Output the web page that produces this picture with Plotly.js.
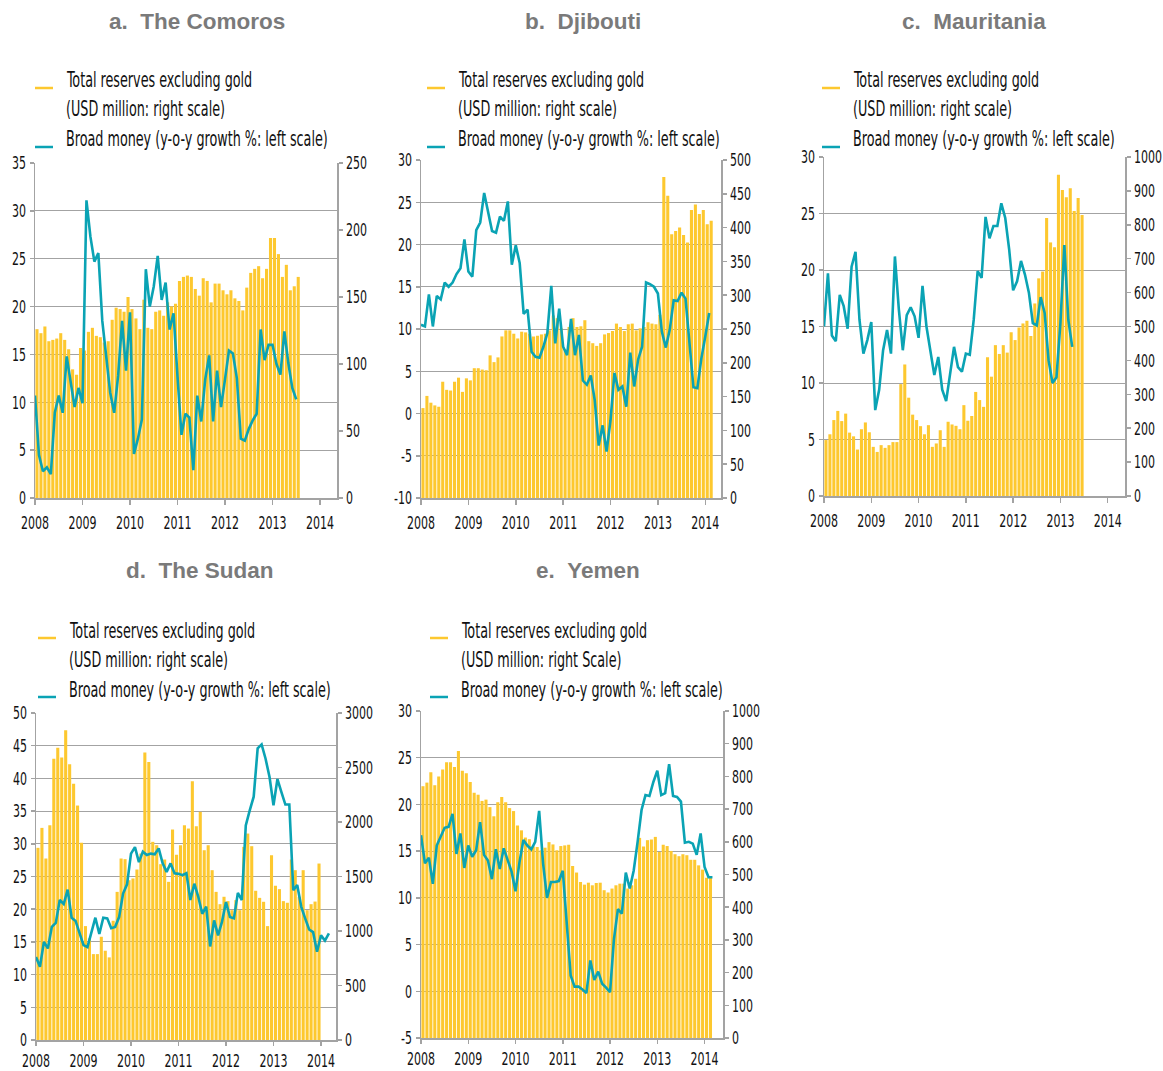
<!DOCTYPE html>
<html>
<head>
<meta charset="utf-8">
<script src="https://cdn.plot.ly/plotly-3.0.1.min.js"></script>
<style>html,body{margin:0;padding:0;background:#fff;}#chart{width:1163px;height:1071px;}</style>
</head>
<body>
<div id="chart"></div>
<script>
// ---------- DATA (monthly, starting January 2008) ----------
const years = [2008, 2009, 2010, 2011, 2012, 2013, 2014];
const yearLabels = ["2008", "2009", "2010", "2011", "2012", "2013", "2014"];

const panelTitles = ["a.\u00a0\u00a0The Comoros", "b.\u00a0\u00a0Djibouti", "c.\u00a0\u00a0Mauritania", "d.\u00a0\u00a0The Sudan", "e.\u00a0\u00a0Yemen"];
const legendReserves1 = "Total reserves excluding gold";
const legendReserves2 = ["(USD million: right scale)", "(USD million: right scale)", "(USD million: right scale)", "(USD million: right scale)", "(USD million: right Scale)"];
const legendMoney = "Broad money (y-o-y growth %: left scale)";

// a. The Comoros
const comorosReserves = [126,123,128,117,118,119,123,118,111,96,92,112,
  110,124,127,121,120,116,117,133,142,141,139,150,
  141,134,126,148,127,126,139,140,136,146,143,145,
  162,165,166,165,156,151,164,162,146,160,160,155,
  152,155,149,147,140,157,168,171,173,164,171,194,
  194,182,165,174,155,158,165];
const comorosMoney = [10.7,4.5,2.8,3.2,2.5,8.9,10.7,8.9,14.8,12.1,9.5,11.5,
  9.9,31.1,27.3,24.7,25.6,18.5,14.8,11.0,8.9,12.75,18.5,13.3,
  19.4,4.6,6.2,8.2,23.9,20.0,22.1,25.3,20.7,22.5,17.6,19.3,
  12.7,6.6,8.8,8.4,2.9,10.7,8.0,12.4,14.9,8.0,13.3,9.5,
  12.4,15.4,15.1,12.5,6.2,6.0,7.2,8.1,8.8,17.6,14.4,16.0,
  16.0,14.0,12.9,17.4,14.1,11.5,10.3];

// b. Djibouti
const djiboutiReserves = [133,151,141,137,135,172,160,159,172,178,157,177,
  174,192,192,190,189,211,201,208,239,248,248,243,
  236,246,245,243,239,240,242,243,248,270,266,251,
  220,253,266,253,254,263,232,229,225,229,242,244,
  247,258,253,247,257,258,248,251,253,260,258,257,
  271,475,447,390,395,400,389,378,426,434,420,426,405,410];
const djiboutiMoney = [10.5,10.3,14.1,10.3,13.9,13.5,15.5,15.0,15.5,16.5,17.2,20.6,
  16.8,16.2,21.7,22.6,26.1,23.9,21.6,21.4,23.3,22.8,25.1,17.6,
  19.9,17.8,11.8,12.3,7.3,6.7,6.6,7.9,9.5,15.1,8.3,12.4,
  7.9,6.9,11.2,6.9,9.3,3.9,3.4,4.5,1.6,-3.8,-1.4,-4.5,
  -0.8,4.8,2.8,3.2,0.8,7.2,3.2,6.4,7.9,15.5,15.3,15.0,
  14.2,9.7,7.8,9.9,13.4,13.3,14.3,13.6,8.5,3.1,3.0,6.5,9.1,11.9];

// c. Mauritania
const mauritaniaReserves = [165,182,224,251,221,243,187,176,137,197,217,188,
  145,130,150,142,150,159,159,330,388,290,240,224,
  206,182,209,145,155,194,145,219,211,207,197,268,
  222,236,307,283,263,409,352,445,419,445,423,483,
  460,497,509,517,472,568,642,662,820,748,734,948,
  903,881,908,841,879,829];
const mauritaniaMoney = [15.0,19.7,14.2,13.7,17.8,16.8,14.8,20.3,21.6,15.6,12.6,13.8,
  15.4,7.6,9.4,12.9,14.7,12.6,21.2,16.5,12.9,16.0,16.7,15.9,
  14.0,18.6,15.0,12.9,10.7,12.3,9.4,8.4,10.8,13.2,11.4,11.0,
  12.6,12.5,15.6,19.9,19.3,24.7,22.8,23.9,23.9,25.9,24.6,21.8,
  18.2,19.0,20.8,19.6,18.0,15.3,15.1,17.6,16.2,12.0,10.0,10.5,
  15.3,22.2,15.6,13.2];

// d. The Sudan
const sudanReserves = [1763,1946,1665,1970,2581,2682,2591,2841,2530,2352,2151,1809,
  1045,932,788,788,947,819,758,1094,1359,1665,1659,1466,
  1482,1564,1711,2637,2551,1818,1787,1613,1656,1451,1931,1700,
  1787,1970,1940,2374,1961,2093,1741,1787,1558,1359,1246,1314,
  1274,1191,1283,1191,1772,1894,1778,1369,1304,1268,1045,1696,
  1414,1384,1274,1259,1656,1558,1314,1558,1191,1246,1270,1619];
const sudanMoney = [12.7,11.2,15.0,14.0,17.3,17.9,21.4,20.8,23.0,18.7,18.2,16.3,
  14.5,14.2,16.3,18.7,16.2,18.7,18.6,17.1,17.3,18.8,22.4,23.8,
  28.5,29.5,27.2,28.8,28.3,28.5,28.4,29.3,27.0,25.7,27.0,25.5,
  25.4,25.2,25.5,21.4,23.9,21.9,19.3,20.4,14.3,18.3,16.0,18.1,
  21.1,18.8,18.6,22.5,21.4,32.8,35.1,37.2,44.6,45.2,43.0,40.2,
  35.9,39.9,37.9,36.0,36.0,22.9,23.7,20.4,18.6,16.9,16.5,13.5,
  16.0,15.2,16.3];

// e. Yemen
const yemenReserves = [770,781,813,773,800,821,843,843,829,878,817,810,
  783,750,744,725,729,706,678,721,737,721,703,694,
  650,635,613,608,586,584,574,582,599,592,574,587,
  589,591,526,506,477,469,475,467,474,475,452,445,
  457,467,472,472,457,467,487,612,586,605,607,615,
  569,591,587,572,562,556,562,559,545,545,528,515,490,490];
const yemenMoney = [16.7,13.7,14.3,11.5,15.6,16.5,17.5,17.6,19.0,14.7,16.9,13.2,
  15.6,14.4,15.1,18.1,14.6,14.0,12.0,15.2,13.1,15.3,14.0,12.8,
  10.7,13.8,16.2,15.6,15.2,16.0,19.3,13.7,10.0,11.7,11.7,11.8,
  12.9,7.5,1.7,0.5,0.5,0.2,-0.2,3.3,1.2,2.1,0.8,0.4,
  -0.1,5.6,8.8,8.3,12.7,11.0,12.9,16.0,19.4,21.0,20.9,22.4,
  23.6,21.0,21.2,24.3,20.9,20.8,20.3,15.9,16.0,15.8,14.6,16.9,
  13.3,12.2,12.2];

// ---------- LAYOUT HELPERS ----------
const W = 1163, H = 1071;
const FONT = '"DejaVu Sans Condensed", "DejaVu Sans", sans-serif';
const GOLD = '#FDC82F', TEAL = '#0AA3B4', GRID = '#a3a3a3', AXIS = '#a3a3a3';

const panels = [
  {reserves: comorosReserves, money: comorosMoney, px: [35, 337], py: [163, 498], xEnd: 2014.358,
   left: [0, 35], right: [0, 250], rdt: 50, title: [197, 21], leg: [35, 64, 0], xlen: 5, xoff: 3},
  {reserves: djiboutiReserves, money: djiboutiMoney, px: [421, 721], py: [160, 498], xEnd: 2014.332,
   left: [-10, 30], right: [0, 500], rdt: 50, title: [583, 21], leg: [427, 456, 0], xlen: 5, xoff: 3},
  {reserves: mauritaniaReserves, money: mauritaniaMoney, px: [824, 1125], py: [157, 496], xEnd: 2014.366,
   left: [0, 30], right: [0, 1000], rdt: 100, title: [974, 21], leg: [822, 851, 0], xlen: 5, xoff: 3},
  {reserves: sudanReserves, money: sudanMoney, px: [36, 336], py: [713, 1040], xEnd: 2014.316,
   left: [0, 50], right: [0, 3000], rdt: 500, title: [200, 570], leg: [38, 67, 550], xlen: 4, xoff: 0},
  {reserves: yemenReserves, money: yemenMoney, px: [421, 723], py: [711, 1038], xEnd: 2014.39,
   left: [-5, 30], right: [0, 1000], rdt: 100, title: [588, 570], leg: [430, 459, 550], xlen: 4, xoff: 0}
];

function ticksFor(range, step) {
  const v = [];
  for (let t = range[0]; t <= range[1] + 1e-9; t += step) v.push(t);
  return v;
}

const data = [];
const layout = {
  width: W, height: H, margin: {l: 0, r: 0, t: 0, b: 0},
  paper_bgcolor: '#fff', plot_bgcolor: 'rgba(0,0,0,0)',
  showlegend: false, bargap: 0.22,
  font: {family: FONT, size: 18, color: '#111'},
  annotations: [], shapes: []
};

const tickFont = {family: FONT, size: 18, color: '#111'};

panels.forEach((p, idx) => {
  const k = idx + 1;
  const kl = k + 5;
  const xName = k === 1 ? 'x' : 'x' + k;
  const yName = k === 1 ? 'y' : 'y' + k;
  const ylName = 'y' + kl;
  const rTicks = ticksFor(p.right, p.rdt);
  const lTicks = ticksFor(p.left, 5);

  layout[k === 1 ? 'xaxis' : 'xaxis' + k] = {
    domain: [p.px[0] / W, p.px[1] / W], anchor: yName,
    range: [2008, p.xEnd], tickmode: 'array', tickvals: years, ticktext: yearLabels,
    showline: true, linecolor: AXIS, linewidth: 1.5, ticks: 'outside', ticklen: p.xlen, tickcolor: AXIS,
    tickwidth: 1.5, showgrid: false, zeroline: false, tickfont: tickFont, fixedrange: true,
    ticklabelstandoff: p.xoff
  };
  layout[k === 1 ? 'yaxis' : 'yaxis' + k] = {
    domain: [1 - p.py[1] / H, 1 - p.py[0] / H], anchor: xName, side: 'right',
    range: p.right, tickmode: 'array', tickvals: rTicks, ticktext: rTicks.map(String),
    showline: true, linecolor: AXIS, linewidth: 1.5, ticks: 'outside', ticklen: 4, tickcolor: AXIS,
    tickwidth: 1.5, showgrid: false, zeroline: false, tickfont: tickFont, fixedrange: true
  };
  layout['yaxis' + kl] = {
    overlaying: yName, anchor: xName, side: 'left',
    range: p.left, tickmode: 'array', tickvals: lTicks, ticktext: lTicks.map(String),
    showline: true, linecolor: AXIS, linewidth: 1.5, ticks: 'outside', ticklen: 4, tickcolor: AXIS,
    tickwidth: 1.5, showgrid: true, gridcolor: GRID, gridwidth: 1, zeroline: false,
    tickfont: tickFont, fixedrange: true
  };

  data.push({
    type: 'bar', xaxis: xName, yaxis: yName,
    x: p.reserves.map((v, i) => 2008 + (i + 0.5) / 12), y: p.reserves,
    marker: {color: GOLD, line: {width: 0}}, hoverinfo: 'skip'
  });
  data.push({
    type: 'scatter', mode: 'lines', xaxis: xName, yaxis: ylName,
    x: p.money.map((v, i) => 2008 + i / 12), y: p.money,
    line: {color: TEAL, width: 2.6}, hoverinfo: 'skip'
  });

  // title
  layout.annotations.push({
    xref: 'paper', yref: 'paper', x: p.title[0] / W, y: 1 - p.title[1] / H,
    xanchor: 'center', yanchor: 'middle', showarrow: false, text: panelTitles[idx],
    font: {family: '"Liberation Sans", Arial, sans-serif', size: 22.5, color: '#7a7a7a', weight: 'bold'}
  });
  // legend
  const off = p.leg[2];
  const segX0 = p.leg[0], textX = p.leg[1];
  [[legendReserves1, 80], [legendReserves2[idx], 109], [legendMoney, 139]].forEach(([t, yy]) => {
    layout.annotations.push({
      xref: 'paper', yref: 'paper', x: textX / W, y: 1 - (yy + off) / H,
      xanchor: 'left', yanchor: 'middle', align: 'left', showarrow: false, text: t,
      font: {family: FONT, size: 22, color: '#111'}
    });
  });
  layout.shapes.push({type: 'line', xref: 'paper', yref: 'paper',
    x0: segX0 / W, x1: (segX0 + 18) / W, y0: 1 - (88 + off) / H, y1: 1 - (88 + off) / H,
    line: {color: GOLD, width: 2.5}});
  layout.shapes.push({type: 'line', xref: 'paper', yref: 'paper',
    x0: segX0 / W, x1: (segX0 + 18) / W, y0: 1 - (147 + off) / H, y1: 1 - (147 + off) / H,
    line: {color: TEAL, width: 2.5}});
});

Plotly.newPlot('chart', data, layout, {displayModeBar: false, staticPlot: true}).then(gd => {
  // The reference uses a strongly condensed face: narrow the condensed texts horizontally
  // by wrapping each one in a group scaled about its anchor point.
  const NS = 'http://www.w3.org/2000/svg';
  const texts = Array.from(gd.querySelectorAll('text'));
  texts.forEach(t => {
    const ff = (t.style && t.style.fontFamily) || '';
    if (!/DejaVu/.test(ff)) return;
    const f = t.classList.contains('annotation-text') ? 0.645 : 0.68;
    const svg = t.ownerSVGElement;
    const parent = t.parentNode;
    const pt = svg.createSVGPoint();
    pt.x = parseFloat(t.getAttribute('x')) || 0;
    pt.y = parseFloat(t.getAttribute('y')) || 0;
    const scr = pt.matrixTransform(t.getCTM());
    const loc = scr.matrixTransform(parent.getCTM().inverse());
    const g = document.createElementNS(NS, 'g');
    g.setAttribute('transform', 'translate(' + loc.x + ',0) scale(' + f + ',1) translate(' + (-loc.x) + ',0)');
    parent.insertBefore(g, t);
    g.appendChild(t);
  });
  // shrink the (invisible) annotation boxes so that they match the narrowed texts
  gd.querySelectorAll('.annotation').forEach(a => {
    const t = a.querySelector('text.annotation-text');
    const bg = a.querySelector('rect.bg');
    if (!t || !bg) return;
    const ff = (t.style && t.style.fontFamily) || '';
    if (!/DejaVu/.test(ff)) return;
    const w = parseFloat(bg.getAttribute('width')) || 0;
    bg.setAttribute('width', (w * 0.645).toFixed(1));
  });
});
</script>
</body>
</html>
